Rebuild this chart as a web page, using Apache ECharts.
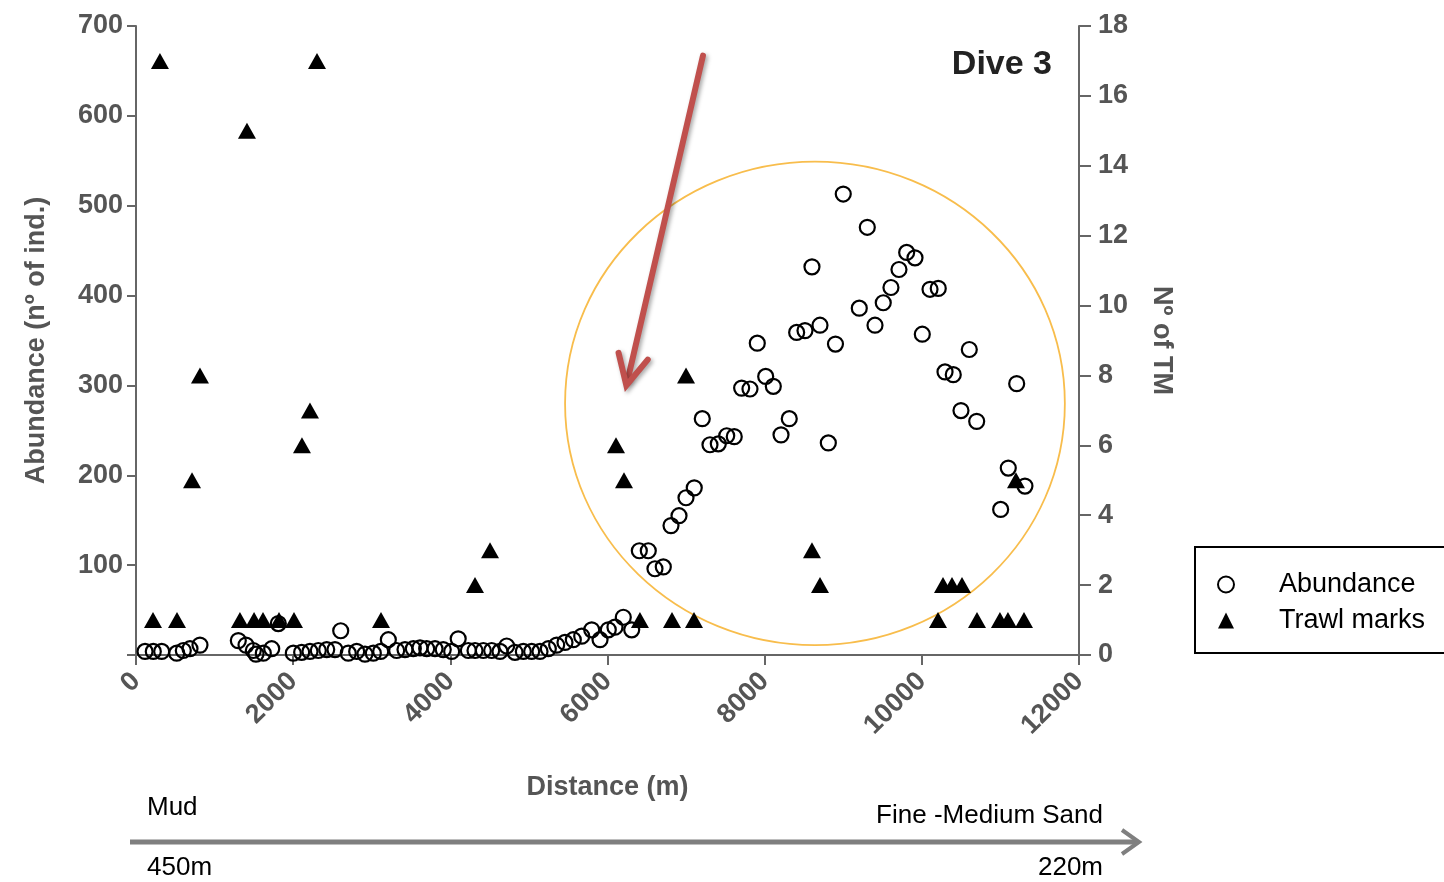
<!DOCTYPE html>
<html>
<head>
<meta charset="utf-8">
<script src="https://cdn.jsdelivr.net/npm/echarts@6/dist/echarts.min.js"></script>
<style>
  html, body { margin: 0; padding: 0; background: #fff; }
  #chart { width: 1444px; height: 882px; }
</style>
</head>
<body>
<div id="chart"></div>
<script>
// Abundance of individuals along the transect (distance in m, count)
const abundanceDistance = [
  115, 220, 327, 518, 602, 687, 814,
  1302, 1400, 1493, 1527, 1620, 1727, 1811,
  2002, 2108, 2214, 2320, 2427, 2532, 2605, 2701, 2808, 2914,
  3020, 3114, 3211, 3317, 3423, 3529, 3614, 3699, 3805, 3910,
  4017, 4100, 4229, 4314, 4420, 4526, 4632, 4717, 4823, 4929,
  5035, 5141, 5247, 5353, 5459, 5565, 5672, 5799, 5905,
  6010, 6095, 6201, 6308,
  6405, 6519, 6604, 6710, 6808, 6910, 6999, 7104, 7206, 7304, 7410, 7517, 7613, 7707, 7813, 7906,
  8013, 8110, 8208, 8313, 8407, 8513, 8602, 8704, 8810, 8901,
  9000, 9204, 9306, 9404, 9509, 9607, 9709, 9807, 9913,
  10006, 10104, 10209, 10295, 10400, 10498, 10604, 10698,
  11003, 11100, 11207, 11312
];
const abundanceValues = [
  4, 4, 4, 2, 5, 7, 11,
  16, 11, 5, 1, 2, 7, 35,
  2, 3, 4, 5, 6, 6, 27, 2, 4, 1,
  2, 4, 17, 5, 6, 7, 8, 7, 7, 6,
  4, 18, 5, 5, 5, 5, 4, 10, 3, 4,
  4, 4, 7, 11, 14, 17, 21, 28, 17,
  28, 31, 42, 28,
  116, 116, 96, 98, 144, 155, 175, 186, 263, 234, 235, 244, 243, 297, 296, 347,
  310, 299, 245, 263, 359, 361, 432, 367, 236, 346,
  513, 386, 476, 367, 392, 409, 429, 448, 442,
  357, 407, 408, 315, 312, 272, 340, 260,
  162, 208, 302, 188
];

// Number of trawl marks (TM) along the transect
const trawlDistance = [
  216, 305, 522, 713, 814, 1323, 1412, 1502, 1616, 1820, 2011, 2112, 2214, 2303,
  3118, 4314, 4505, 6108, 6210, 6413, 6821, 6999, 7101, 8602, 8704,
  10206, 10269, 10384, 10511, 10702, 10994, 11096, 11198, 11300
];
const trawlCounts = [
  1, 17, 1, 5, 8, 1, 15, 1, 1, 1, 1, 6, 7, 17,
  1, 2, 3, 6, 5, 1, 1, 8, 1, 3, 2,
  1, 2, 2, 2, 1, 1, 1, 5, 1
];

const distanceRange = [0, 12000, 2000];
const abundanceRange = [0, 700, 100];
const tmRange = [0, 18, 2];

const AXIS_COLOR = '#666';
const LABEL_COLOR = '#555';
const FONT = '"Liberation Sans", Arial, Helvetica, sans-serif';

const chart = echarts.init(document.getElementById('chart'), null, { renderer: 'canvas' });

const axisLabel = { fontFamily: FONT, fontWeight: 'bold', fontSize: 27, color: LABEL_COLOR };
const axisName = { fontFamily: FONT, fontWeight: 'bold', fontSize: 27, color: LABEL_COLOR };

chart.setOption({
  backgroundColor: '#fff',
  animation: false,
  grid: { left: 136, right: 365, top: 26, bottom: 227, containLabel: false },
  xAxis: {
    type: 'value',
    min: distanceRange[0], max: distanceRange[1], interval: distanceRange[2],
    name: 'Distance (m)', nameLocation: 'middle', nameGap: 119,
    nameTextStyle: axisName,
    axisLine: { show: true, onZero: false, lineStyle: { color: AXIS_COLOR, width: 2 } },
    axisTick: { show: true, length: 10, lineStyle: { color: AXIS_COLOR, width: 2 } },
    axisLabel: Object.assign({ rotate: 45, margin: 22, formatter: v => String(v) }, axisLabel),
    splitLine: { show: false }
  },
  yAxis: [
    {
      type: 'value', position: 'left',
      min: abundanceRange[0], max: abundanceRange[1], interval: abundanceRange[2],
      name: 'Abundance (nº of ind.)', nameLocation: 'middle', nameGap: 86,
      nameTextStyle: axisName,
      axisLine: { show: true, onZero: false, lineStyle: { color: AXIS_COLOR, width: 2 } },
      axisTick: { show: true, length: 9, lineStyle: { color: AXIS_COLOR, width: 2 } },
      axisLabel: Object.assign({ margin: 13, formatter: v => (v === 0 ? '' : String(v)) }, axisLabel),
      splitLine: { show: false }
    },
    {
      type: 'value', position: 'right',
      min: tmRange[0], max: tmRange[1], interval: tmRange[2],
      name: 'Nº of TM', nameLocation: 'middle', nameGap: 69, nameRotate: -90,
      nameTextStyle: axisName,
      axisLine: { show: true, onZero: false, lineStyle: { color: AXIS_COLOR, width: 2 } },
      axisTick: { show: true, length: 12, lineStyle: { color: AXIS_COLOR, width: 2 } },
      axisLabel: Object.assign({ margin: 19 }, axisLabel),
      splitLine: { show: false }
    }
  ],
  legend: {
    orient: 'vertical', left: 1195, top: 547,
    padding: [24, 40, 19, 22], itemGap: 9,
    itemWidth: 16, itemHeight: 16,
    borderColor: '#000', borderWidth: 2,
    textStyle: { fontFamily: FONT, fontSize: 27, color: '#000', padding: [0, 0, 0, 40] },
    data: ['Abundance', 'Trawl marks']
  },
  series: [
    {
      name: 'Trawl marks', type: 'scatter', yAxisIndex: 1, z: 2,
      symbol: 'triangle', symbolSize: [18, 16],
      itemStyle: { color: '#000', opacity: 1 },
      data: trawlDistance.map((d, i) => [d, trawlCounts[i]])
    },
    {
      name: 'Abundance', type: 'scatter', yAxisIndex: 0, z: 3,
      symbol: 'circle', symbolSize: 15,
      itemStyle: { color: 'rgba(255,255,255,0)', borderColor: '#000', borderWidth: 2.2, opacity: 1 },
      data: abundanceDistance.map((d, i) => [d, abundanceValues[i]])
    }
  ]
});

// Annotations placed in data space: highlighted region and pointer arrow
const toPx = p => chart.convertToPixel({ gridIndex: 0 }, p);
const ringCenter = toPx([8640, 280]);
const ringEdge = toPx([8640 + 3180, 280 + 269]);
const arrowStart = toPx([7215, 667]);
const arrowTip = toPx([6240, 300]);

const dx = arrowTip[0] - arrowStart[0], dy = arrowTip[1] - arrowStart[1];
const len = Math.hypot(dx, dy), ux = dx / len, uy = dy / len;
const headLen = 30, headHalf = 15;
const headBase = [arrowTip[0] - ux * headLen, arrowTip[1] - uy * headLen];
const wingA = [headBase[0] - uy * headHalf, headBase[1] + ux * headHalf];
const wingB = [headBase[0] + uy * headHalf, headBase[1] - ux * headHalf];
const arrowStyle = {
  stroke: '#C0504D', lineWidth: 6, lineCap: 'round', lineJoin: 'miter', fill: null,
  shadowBlur: 4, shadowColor: 'rgba(0,0,0,0.35)', shadowOffsetX: 2, shadowOffsetY: 2
};

chart.setOption({
  graphic: [
    {
      type: 'ellipse', z: 1, silent: true,
      shape: { cx: ringCenter[0], cy: ringCenter[1], rx: ringEdge[0] - ringCenter[0], ry: ringCenter[1] - ringEdge[1] },
      style: { fill: null, stroke: '#F8BD4C', lineWidth: 1.8 }
    },
    {
      type: 'line', z: 50, silent: true,
      shape: { x1: arrowStart[0], y1: arrowStart[1], x2: arrowTip[0] - ux * 6, y2: arrowTip[1] - uy * 6 },
      style: arrowStyle
    },
    {
      type: 'polyline', z: 50, silent: true,
      shape: { points: [wingA, arrowTip, wingB] },
      style: arrowStyle
    },
    {
      type: 'text', z: 60, silent: true,
      x: 1052, y: 65,
      style: { text: 'Dive 3', fontFamily: FONT, fontWeight: 'bold', fontSize: 34, fill: '#222', align: 'right', verticalAlign: 'middle' }
    },
    {
      type: 'text', silent: true, x: 147, y: 808,
      style: { text: 'Mud', fontFamily: FONT, fontSize: 26, fill: '#000', align: 'left', verticalAlign: 'middle' }
    },
    {
      type: 'text', silent: true, x: 1103, y: 816,
      style: { text: 'Fine -Medium Sand', fontFamily: FONT, fontSize: 26, fill: '#000', align: 'right', verticalAlign: 'middle' }
    },
    {
      type: 'text', silent: true, x: 147, y: 868,
      style: { text: '450m', fontFamily: FONT, fontSize: 26, fill: '#000', align: 'left', verticalAlign: 'middle' }
    },
    {
      type: 'text', silent: true, x: 1103, y: 868,
      style: { text: '220m', fontFamily: FONT, fontSize: 26, fill: '#000', align: 'right', verticalAlign: 'middle' }
    },
    {
      type: 'line', silent: true,
      shape: { x1: 130, y1: 842, x2: 1136, y2: 842 },
      style: { stroke: '#7F7F7F', lineWidth: 5 }
    },
    {
      type: 'polyline', silent: true,
      shape: { points: [[1122, 830], [1139, 842], [1122, 854]] },
      style: { stroke: '#7F7F7F', lineWidth: 4, fill: null, lineJoin: 'miter' }
    }
  ]
});
</script>
</body>
</html>
